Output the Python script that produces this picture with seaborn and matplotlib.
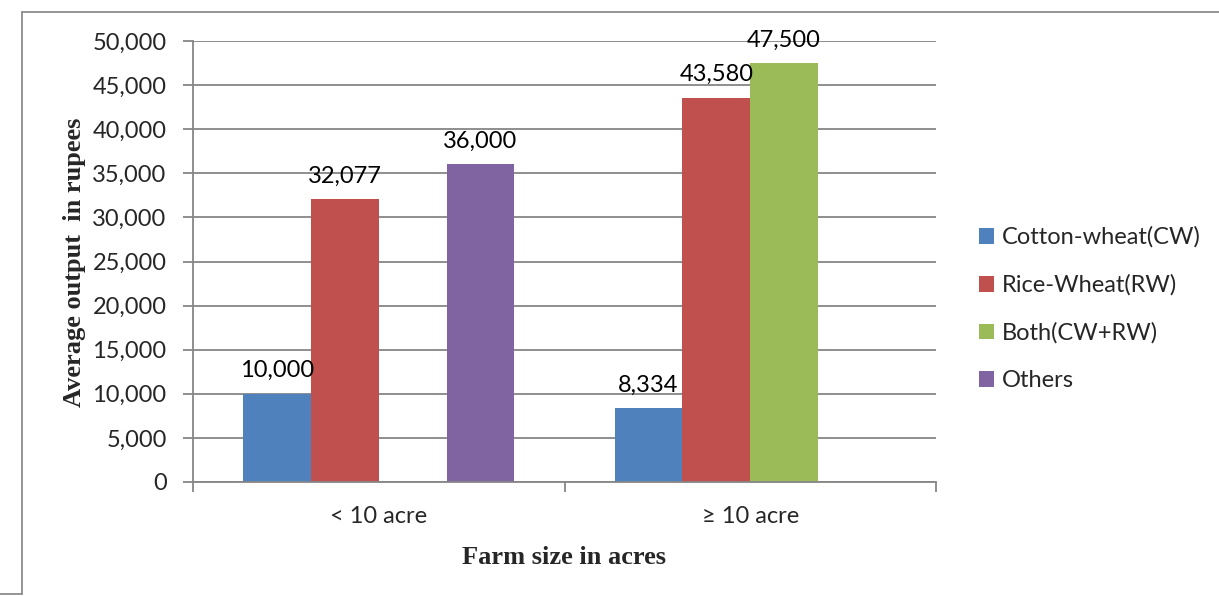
import matplotlib
matplotlib.use("Agg")
import matplotlib.pyplot as plt
from matplotlib.patches import Patch
from matplotlib.lines import Line2D
import seaborn as sns
import pandas as pd
import numpy as np

categories = ["< 10 acre", "≥ 10 acre"]
series = ["Cotton-wheat(CW)", "Rice-Wheat(RW)", "Both(CW+RW)", "Others"]
cw = [10000, 8334]
rw = [32077, 43580]
both = [np.nan, 47500]
others = [36000, np.nan]
colors = ["#4F81BD", "#C0504D", "#9BBB59", "#8064A2"]
yticks = [0, 5000, 10000, 15000, 20000, 25000, 30000, 35000, 40000, 45000, 50000]

rows = []
for s, vals in zip(series, [cw, rw, both, others]):
    for c, v in zip(categories, vals):
        if not np.isnan(v):
            rows.append({"cat": c, "series": s, "value": v})
df = pd.DataFrame(rows)

sns.set_theme(style="white")
plt.rcParams["font.family"] = ["Lato", "DejaVu Sans"]

W, H = 1219, 596
fig = plt.figure(figsize=(W/100, H/100), dpi=100)
ax = fig.add_axes([193/W, 1-482/H, (936-193)/W, (482-41)/H])

sns.barplot(data=df, x="cat", y="value", hue="series", order=categories,
            hue_order=series, palette=colors, width=0.73, gap=0,
            saturation=1, ax=ax, legend=False, edgecolor="none", linewidth=0)

grid_c = "#868686"
fs = 17
ax.set_ylim(0, 50000)
ax.set_xlim(-0.5, 1.5)
ax.set_yticks(yticks)
ax.set_yticklabels([f"{v:,}" for v in yticks], fontsize=fs)
ax.yaxis.grid(True, color=grid_c, linewidth=1.3)
ax.set_axisbelow(True)
ax.tick_params(axis="y", length=7, width=1.3, color=grid_c, pad=12, left=True)
ax.set_xticks([0, 1])
ax.set_xticklabels(categories, fontsize=fs)
ax.set_xticks([-0.5, 0.5, 1.5], minor=True)
ax.tick_params(axis="x", which="major", length=0, pad=17)
ax.tick_params(axis="x", which="minor", length=7, width=1.3, color=grid_c, bottom=True)
for side in ["top", "right"]:
    ax.spines[side].set_visible(False)
for side in ["left", "bottom"]:
    ax.spines[side].set_color(grid_c)
    ax.spines[side].set_linewidth(1.3)

for cont in ax.containers:
    ax.bar_label(cont, labels=[f"{v:,.0f}" for v in cont.datavalues],
                 padding=9, fontsize=fs, color="black")

ax.set_xlabel("")
ax.set_ylabel("")
fig.text(564.5/W, 1-557/H, "Farm size in acres", fontsize=19, fontweight="bold",
         family="Liberation Serif", ha="center", va="center")
fig.text(75/W, 1-262/H, "Average output  in rupees", fontsize=19, fontweight="bold",
         family="Liberation Serif", ha="center", va="center", rotation=90)

handles = [Patch(facecolor=c, edgecolor="none") for c in colors]
fig.legend(handles, series, loc="center left", bbox_to_anchor=(958/W, 1-309/H),
           frameon=False, fontsize=fs, handlelength=0.64, handleheight=0.64,
           labelspacing=1.12, handletextpad=0.3)

# outer frame
fc = "#8c8c8c"
fig.add_artist(Line2D([22/W, 1], [1-12/H, 1-12/H], color=fc, lw=1.3, transform=fig.transFigure))
fig.add_artist(Line2D([22/W, 22/W], [1-12/H, 1-594/H], color=fc, lw=1.3, transform=fig.transFigure))
fig.add_artist(Line2D([0, 22/W], [1-594/H, 1-594/H], color=fc, lw=1.3, transform=fig.transFigure))

fig.savefig("out.png", dpi=100, facecolor="white")
